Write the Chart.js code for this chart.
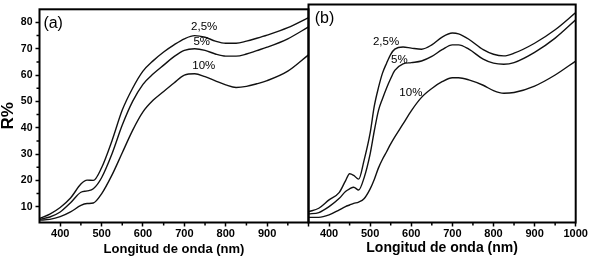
<!DOCTYPE html>
<html>
<head>
<meta charset="utf-8">
<script src="https://cdn.jsdelivr.net/npm/chart.js@4.4.0/dist/chart.umd.min.js"></script>
<style>
  html, body { margin: 0; padding: 0; background: #fff; }
  #wrap { position: relative; width: 590px; height: 261px; }
  #wrap canvas { position: absolute; left: 0; top: 0; }
</style>
</head>
<body>
<div id="wrap">
  <canvas id="panelA" width="590" height="261"></canvas>
  <canvas id="panelB" width="590" height="261"></canvas>
</div>
<script>
// panel (a): reflectancia vs longitud de onda
const lambdaA = [350, 375, 400, 425, 450, 465, 480, 500, 525, 550, 575, 600, 625, 650, 675, 700, 725, 750, 775, 800, 825, 850, 875, 900, 950, 1000];
const r25A = [5.5, 7.2, 9.7, 13.3, 18.6, 20.1, 20.0, 24.8, 35.0, 46.7, 55.0, 61.5, 65.5, 68.8, 71.5, 73.8, 75.0, 74.4, 72.9, 72.1, 72.1, 72.9, 74.0, 75.2, 78.0, 81.8];
const r5A = [5.2, 6.1, 8.0, 11.5, 15.5, 16.0, 16.8, 21.0, 30.0, 41.0, 50.0, 56.5, 60.5, 63.8, 67.0, 69.4, 70.0, 69.4, 68.0, 67.2, 67.2, 68.0, 69.3, 70.6, 73.8, 78.3];
const r10A = [4.9, 5.2, 6.2, 8.0, 10.5, 11.2, 11.4, 14.9, 22.0, 30.5, 39.0, 46.0, 50.5, 53.8, 57.0, 60.0, 60.5, 59.4, 57.8, 56.3, 55.3, 55.7, 56.7, 57.9, 61.5, 67.7];

// panel (b)
const lambdaB = [350, 375, 400, 425, 440, 450, 460, 472, 485, 500, 510, 520, 530, 540, 550, 560, 580, 600, 625, 650, 675, 700, 715, 740, 775, 800, 825, 850, 900, 950, 1000];
const r25B = [8.0, 9.3, 12.4, 15.2, 19.5, 22.1, 21.5, 20.1, 27.0, 37.3, 47.2, 54.0, 59.5, 63.2, 66.5, 68.4, 69.2, 68.8, 68.4, 70.0, 72.9, 74.4, 74.1, 72.1, 68.2, 66.5, 65.9, 66.9, 70.6, 75.6, 82.0];
const r5B = [7.2, 7.7, 9.9, 13.0, 15.5, 16.5, 17.1, 16.1, 20.5, 29.5, 38.0, 45.5, 50.0, 54.0, 57.5, 60.5, 62.9, 63.4, 64.0, 65.7, 68.2, 70.0, 70.0, 68.4, 64.7, 63.2, 62.8, 63.4, 67.2, 72.5, 79.3];
const r10B = [5.9, 5.9, 6.8, 8.7, 9.9, 10.5, 11.1, 11.6, 12.8, 16.5, 20.0, 24.2, 27.5, 30.3, 33.2, 35.8, 40.6, 45.5, 50.5, 53.8, 56.3, 57.8, 57.8, 57.0, 55.0, 53.0, 52.0, 52.3, 54.7, 58.8, 64.0];

const etiquetas = ['2,5%', '5%', '10%'];
const xTicks = [400, 500, 600, 700, 800, 900, 1000];
const xMinor = [450, 550, 650, 750, 850, 950];
const yTicks = [10, 20, 30, 40, 50, 60, 70, 80];
const yMinor = [15, 25, 35, 45, 55, 65, 75];

const FUENTE = '"Liberation Sans", Arial, sans-serif';
const X_MIN = 350, X_MAX = 1000, Y_MIN = 4, Y_MAX = 85;

// marco, ticks menores y textos sobre el grafico
const marcoPlugin = {
    id: 'marco',
    afterDraw(chart, args, opts) {
        const { ctx, chartArea: a, scales } = chart;
        ctx.save();
        ctx.strokeStyle = '#000';
        ctx.lineWidth = 1.5;
        ctx.beginPath();
        xMinor.forEach(v => {
            const px = scales.x.getPixelForValue(v);
            ctx.moveTo(px, a.bottom);
            ctx.lineTo(px, a.bottom + 3);
        });
        if (opts.ejeY) {
            yMinor.forEach(v => {
                const py = scales.y.getPixelForValue(v);
                ctx.moveTo(a.left, py);
                ctx.lineTo(a.left - 3, py);
            });
        }
        ctx.stroke();
        ctx.lineWidth = 2;
        ctx.strokeRect(a.left, a.top, a.right - a.left, a.bottom - a.top);
        ctx.fillStyle = '#000';
        ctx.textAlign = 'center';
        ctx.textBaseline = 'middle';
        (opts.textos || []).forEach(t => {
            ctx.font = t.font;
            ctx.fillText(t.text, scales.x.getPixelForValue(t.x), scales.y.getPixelForValue(t.y));
        });
        ctx.restore();
    }
};

function serie(xs, ys) {
    return {
        data: xs.map((x, i) => ({ x, y: ys[i] })),
        borderColor: '#111',
        borderWidth: 1.4,
        pointRadius: 0,
        fill: false,
        cubicInterpolationMode: 'monotone'
    };
}

function ejeX(ocultar1000, tamTitulo) {
    return {
        type: 'linear',
        min: X_MIN,
        max: X_MAX,
        afterBuildTicks: s => { s.ticks = xTicks.map(v => ({ value: v })); },
        afterFit: s => { s.height = 38.5; },
        border: { display: false },
        grid: { drawOnChartArea: false, drawTicks: true, tickLength: 4, tickWidth: 1.5, tickColor: '#000' },
        ticks: {
            autoSkip: false,
            maxRotation: 0,
            padding: 1,
            color: '#000',
            font: { family: FUENTE, size: 11, weight: 'bold' },
            callback: v => (ocultar1000 && v === 1000) ? '' : v
        },
        title: {
            display: true,
            text: 'Longitud de onda (nm)',
            color: '#000',
            font: { family: FUENTE, size: tamTitulo, weight: 'bold' },
            padding: { top: 0, bottom: 4 }
        }
    };
}

function textosCurvas(pos) {
    return etiquetas.map((e, i) => ({ text: e, x: pos[i][0], y: pos[i][1], font: '11.5px ' + FUENTE }));
}

new Chart(document.getElementById('panelA'), {
    type: 'line',
    data: { datasets: [serie(lambdaA, r25A), serie(lambdaA, r5A), serie(lambdaA, r10A)] },
    options: {
        responsive: false,
        animation: false,
        devicePixelRatio: 1,
        layout: { padding: { left: 0, top: 4.5, right: 590 - 308.5, bottom: 0 } },
        plugins: {
            legend: { display: false },
            tooltip: { enabled: false },
            marco: {
                ejeY: true,
                textos: [
                    { text: '(a)', x: 383, y: 79.6, font: '16px ' + FUENTE },
                    ...textosCurvas([[748, 78.4], [742, 72.5], [747, 63.5]])
                ]
            }
        },
        scales: {
            x: ejeX(true, 13),
            y: {
                type: 'linear',
                min: Y_MIN,
                max: Y_MAX,
                afterBuildTicks: s => { s.ticks = yTicks.map(v => ({ value: v })); },
                afterFit: s => { s.width = 39.5; },
                border: { display: false },
                grid: { drawOnChartArea: false, drawTicks: true, tickLength: 4, tickWidth: 1.5, tickColor: '#000' },
                ticks: {
                    padding: 3,
                    color: '#000',
                    font: { family: FUENTE, size: 10.5, weight: 'bold' }
                },
                title: {
                    display: true,
                    text: 'R%',
                    color: '#000',
                    font: { family: FUENTE, size: 17, weight: 'bold', lineHeight: 1 },
                    padding: { top: 0, bottom: 0 }
                }
            }
        }
    },
    plugins: [marcoPlugin]
});

new Chart(document.getElementById('panelB'), {
    type: 'line',
    data: { datasets: [serie(lambdaB, r25B), serie(lambdaB, r5B), serie(lambdaB, r10B)] },
    options: {
        responsive: false,
        animation: false,
        devicePixelRatio: 1,
        layout: { padding: { left: 308.5, top: 4.5, right: 590 - 575.7, bottom: 0 } },
        plugins: {
            legend: { display: false },
            tooltip: { enabled: false },
            marco: {
                ejeY: false,
                textos: [
                    { text: '(b)', x: 389, y: 79.6, font: '16px ' + FUENTE },
                    ...textosCurvas([[538.6, 71.3], [571, 64.3], [599, 52.3]])
                ]
            }
        },
        scales: {
            x: ejeX(false, 14),
            y: { type: 'linear', display: false, min: Y_MIN, max: Y_MAX }
        }
    },
    plugins: [marcoPlugin]
});
</script>
</body>
</html>
